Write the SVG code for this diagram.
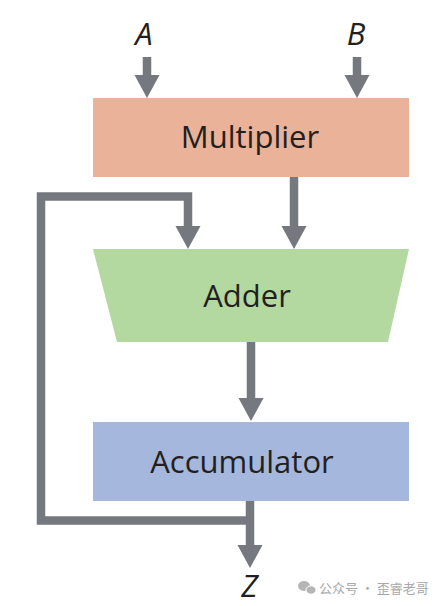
<svg xmlns="http://www.w3.org/2000/svg" width="442" height="606" viewBox="0 0 442 606">
<style>
.lbl{font-family:"Open Sans","Noto Sans","Liberation Sans",sans-serif;font-size:31px;fill:#231f20;text-anchor:middle}
.io{font-family:"Open Sans","Noto Sans","Liberation Sans",sans-serif;font-size:31px;font-style:italic;fill:#231f20;text-anchor:middle}
.wire{fill:none;stroke:#75787f;stroke-width:8.5;stroke-linejoin:miter}
.wm{font-family:"Noto Sans CJK SC","Noto Sans",sans-serif;font-size:13px;fill:#a8a8a8}
</style>
<defs>
<marker id="ah" markerUnits="userSpaceOnUse" markerWidth="26" markerHeight="26" refX="0" refY="12.5" orient="auto" overflow="visible">
<path d="M0,0 L23,12.5 L0,25 Z" fill="#75787f"/>
</marker>
</defs>
<rect width="442" height="606" fill="#ffffff"/>
<g id="label-A"><text class="io" x="144" y="45">A</text></g>
<g id="label-B"><text class="io" x="356" y="45">B</text></g>
<g id="multiplier">
<rect x="93" y="98" width="316" height="79" fill="#eab298"/>
<text class="lbl" x="250" y="148">Multiplier</text>
</g>
<g id="adder">
<polygon points="93,249 409,249 388,342 117,342" fill="#b3d8a0"/>
<text class="lbl" x="247" y="307">Adder</text>
</g>
<g id="accumulator">
<rect x="93" y="422" width="316" height="79" fill="#a5b7dc"/>
<text class="lbl" x="242" y="473">Accumulator</text>
</g>
<g id="label-Z"><text class="io" x="249.5" y="597">Z</text></g>
<g id="connectors">
<line class="wire" x1="147" y1="57" x2="147" y2="75" marker-end="url(#ah)"/>
<line class="wire" x1="357" y1="57" x2="357" y2="75" marker-end="url(#ah)"/>
<line class="wire" x1="294" y1="177" x2="294" y2="226" marker-end="url(#ah)"/>
<line class="wire" x1="251" y1="342" x2="251" y2="398" marker-end="url(#ah)"/>
<line class="wire" x1="250" y1="501" x2="250" y2="545" marker-end="url(#ah)"/>
<polyline class="wire" points="250,520.5 41,520.5 41,196.5 188,196.5 188,226" marker-end="url(#ah)"/>
</g>
<g id="watermark">
<ellipse cx="304" cy="586" rx="6" ry="5" fill="#b5b5b5"/>
<ellipse cx="311" cy="590" rx="5" ry="4.2" fill="#b5b5b5" stroke="#ffffff" stroke-width="1"/>
<text class="wm" x="319" y="593">公众号 · 歪睿老哥</text>
</g>
</svg>
